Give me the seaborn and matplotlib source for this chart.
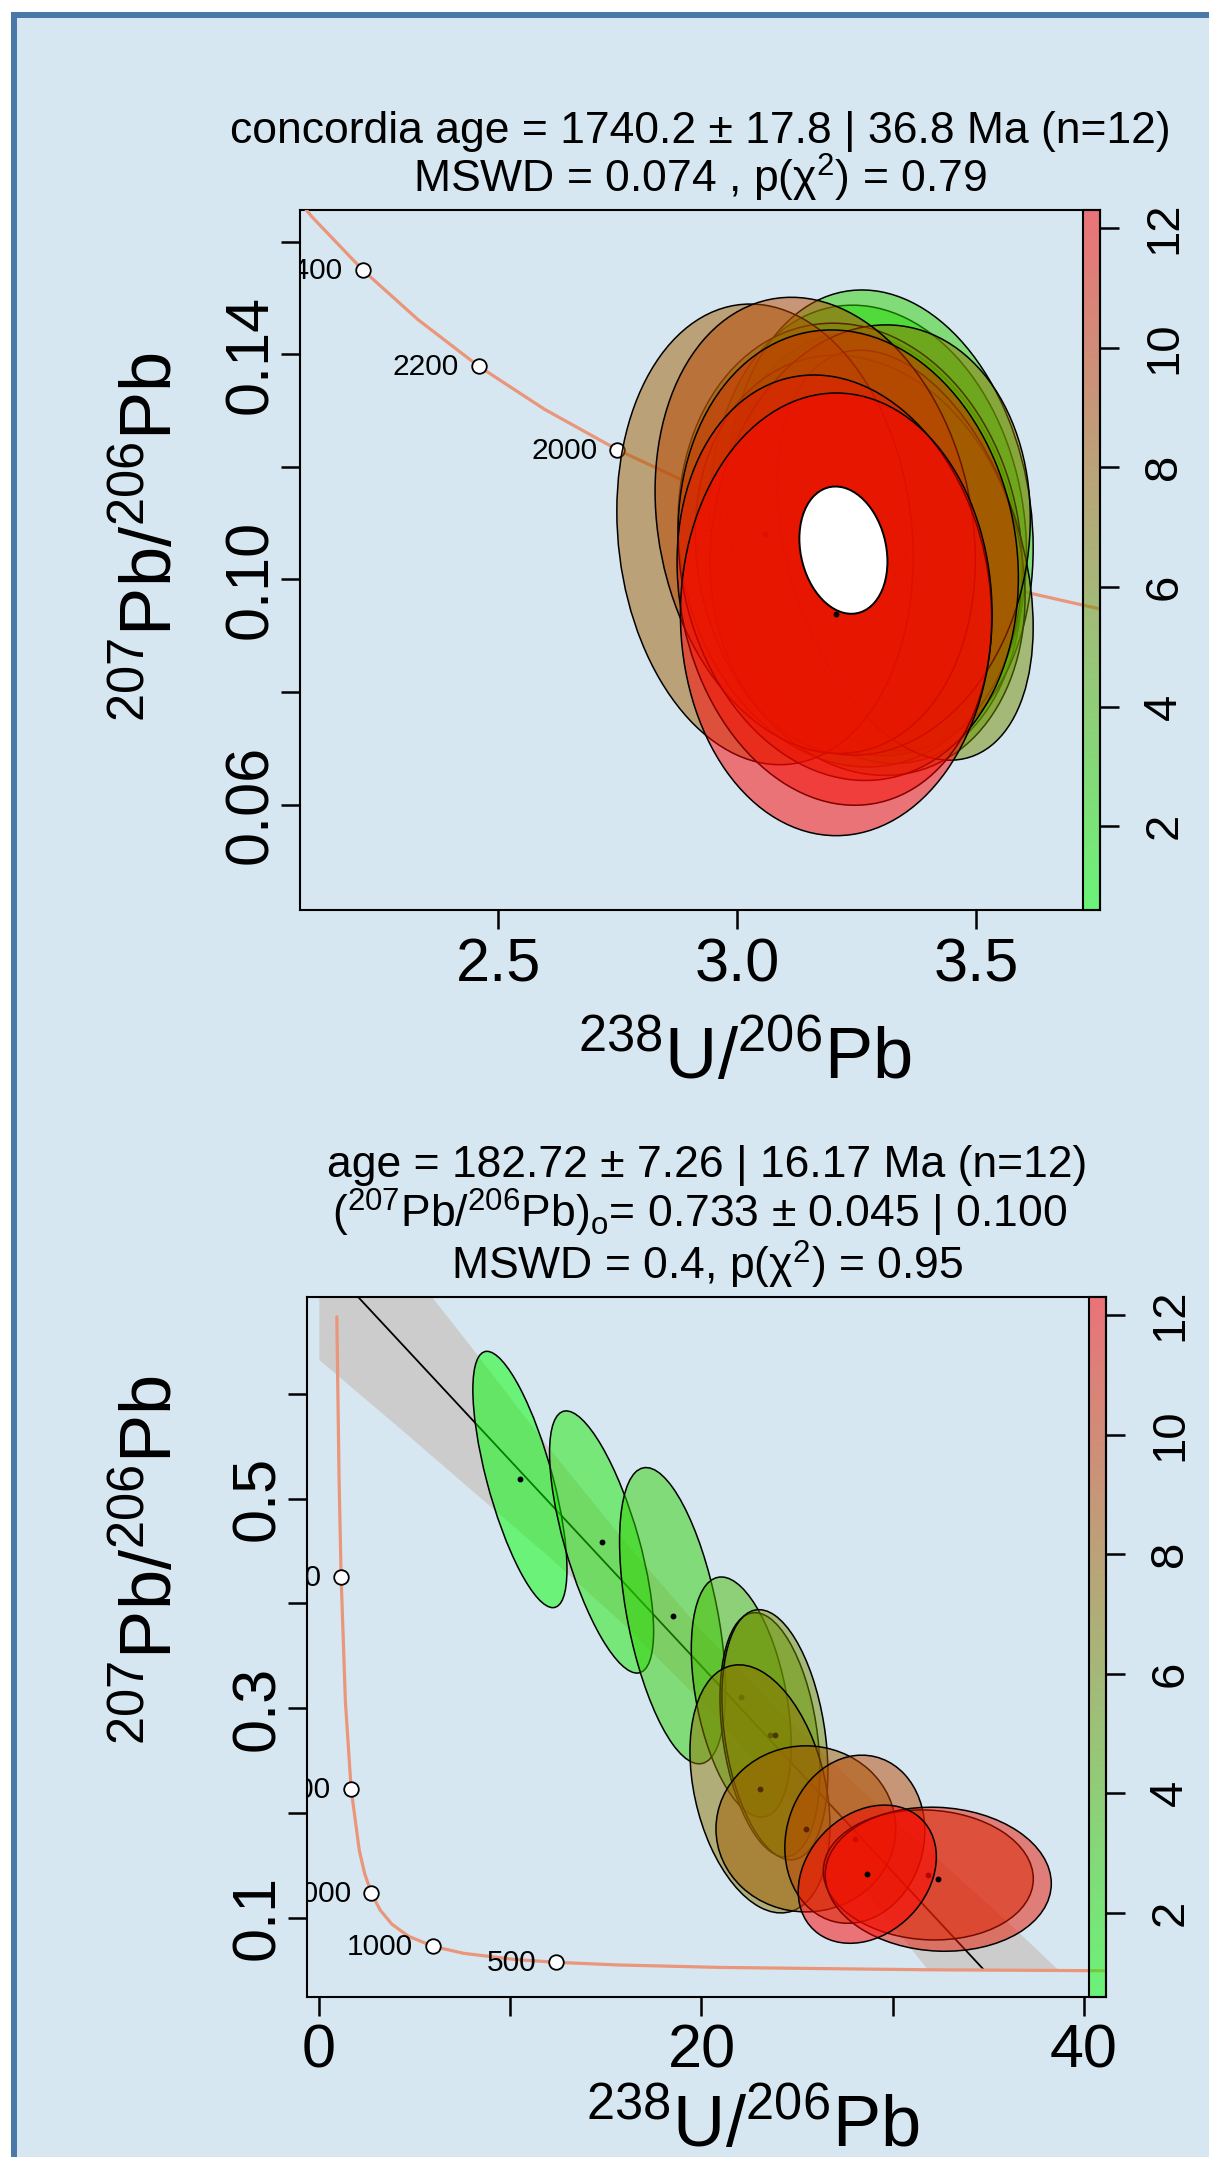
"""
Concordia diagram (top) and Tera-Wasserburg isochron (bottom), redrawn
from an IsoplotR screenshot. Writes out.png at 1209x2157 px.
"""

import matplotlib

matplotlib.use("Agg")

import matplotlib.pyplot as plt
import matplotlib.transforms as mtransforms
import numpy as np
import seaborn as sns
from matplotlib import cm
from matplotlib.colors import LinearSegmentedColormap, Normalize
from matplotlib.patches import Ellipse, Rectangle

W, H = 1209, 2157
BG = "#d6e7f1"
FRAME = "#4a79a9"
SALMON = "#e9967a"
BAND = "#cccccc"

CBAR_TICKS = [2, 4, 6, 8, 10, 12]
GRAIN = [1, 2, 3, 4, 5, 6, 7, 8, 9, 10, 11, 12]

# ---- top panel: concordia ---------------------------------------------------
top_conc_x = [4.1227, 3.8170, 3.5497, 3.3140, 3.1046, 2.9174, 2.7490,
              2.5968, 2.4586, 2.3325, 2.2170, 2.1108, 2.0129]
top_conc_y = [0.08885, 0.09364, 0.09876, 0.10423, 0.11009, 0.11634, 0.12304,
              0.13021, 0.13788, 0.14610, 0.15490, 0.16433, 0.17445]
top_tick_age = [1600, 1800, 2000, 2200, 2400]
top_tick_x = [3.5497, 3.1046, 2.7490, 2.4586, 2.2170]
top_tick_y = [0.09876, 0.11009, 0.12304, 0.13788, 0.15490]

top_x = [3.282, 3.274, 3.299, 3.236, 3.257, 3.351, 3.278, 3.058, 3.163, 3.232, 3.203, 3.207]
top_y = [0.1055, 0.1087, 0.1105, 0.1061, 0.1025, 0.1043, 0.1070, 0.1080, 0.1096, 0.1043, 0.0981, 0.0938]
top_sx = [0.314, 0.331, 0.320, 0.360, 0.345, 0.268, 0.335, 0.310, 0.335, 0.356, 0.329, 0.326]
top_sy = [0.0382, 0.0400, 0.0409, 0.0394, 0.0373, 0.0364, 0.0382, 0.0409, 0.0405, 0.0400, 0.0382, 0.0393]
top_rho = [-0.15, -0.10, -0.12, -0.10, -0.15, -0.35, 0.10, -0.10, -0.15, -0.10, -0.13, 0.0]

# concordia age ellipse (white)
fit_x, fit_y, fit_sx, fit_sy, fit_rho = 3.222, 0.1052, 0.0921, 0.0113, -0.18

# ---- bottom panel: Tera-Wasserburg isochron ---------------------------------
bot_conc_x = [42.477, 31.735, 20.992, 15.621, 12.399, 10.252, 7.568, 5.960, 4.673,
              3.817, 3.206, 2.749, 2.394, 2.111, 1.687, 1.387, 1.163, 1.054, 0.939]
bot_conc_y = [0.04906, 0.05013, 0.05236, 0.05472, 0.05724, 0.05993, 0.06583, 0.07254,
              0.08222, 0.09364, 0.10711, 0.12304, 0.14192, 0.16433, 0.22275, 0.30601,
              0.42520, 0.52062, 0.67371]
bot_tick_age = [500, 1000, 2000, 3000, 4000]
bot_tick_x = [12.399, 5.960, 2.749, 1.687, 1.163]
bot_tick_y = [0.05724, 0.07254, 0.12304, 0.22275, 0.42520]

iso_x = [0.0, 34.78]
iso_y = [0.733, 0.0498]
band_x = [0, 4, 8, 12, 16, 20, 24, 28, 31.8, 34, 36, 38.6]
band_hi = [0.833, 0.737, 0.644, 0.549, 0.459, 0.374, 0.298, 0.228, 0.165, 0.129, 0.096, 0.051]
band_lo = [0.633, 0.571, 0.508, 0.445, 0.379, 0.306, 0.226, 0.138, 0.051, 0.051, 0.051, 0.051]

bot_x = [10.51, 14.78, 18.49, 22.08, 23.58, 23.84, 23.06, 25.46, 28.02, 31.86, 32.38, 28.67]
bot_y = [0.5184, 0.4587, 0.3883, 0.3106, 0.2746, 0.2746, 0.2229, 0.1847, 0.1748, 0.1407, 0.1366, 0.1414]
bot_sx = [2.46, 2.72, 2.77, 2.61, 2.61, 2.77, 3.66, 4.70, 3.66, 5.49, 5.91, 3.61]
bot_sy = [0.1224, 0.1252, 0.1415, 0.1147, 0.1166, 0.1195, 0.1185, 0.0793, 0.0803, 0.0621, 0.0688, 0.0660]
bot_rho = [-0.70, -0.68, -0.50, -0.40, -0.30, -0.30, -0.30, 0.0, 0.10, -0.06, -0.06, 0.25]


def add_axes_px(fig, left, top, right, bottom):
    return fig.add_axes([left / W, 1 - bottom / H, (right - left) / W, (bottom - top) / H])


def text_px(fig, x, y, s, **kw):
    fig.text(x / W, 1 - y / H, s, **kw)


def draw_ellipse(ax, cx, cy, sx, sy, rho, **kw):
    cov = np.array([[sx * sx, rho * sx * sy], [rho * sx * sy, sy * sy]])
    vals, vecs = np.linalg.eigh(cov)
    angle = np.degrees(np.arctan2(vecs[1, 1], vecs[0, 1]))
    ax.add_patch(Ellipse((cx, cy), 2 * np.sqrt(vals[1]), 2 * np.sqrt(vals[0]), angle=angle, **kw))


def draw_grains(ax, cmap, xs, ys, sxs, sys_, rhos):
    norm = Normalize(1, 12)
    for k, (g, x, y, sx, sy, r) in enumerate(zip(GRAIN, xs, ys, sxs, sys_, rhos)):
        draw_ellipse(ax, x, y, sx, sy, r, facecolor=cmap(norm(g)), edgecolor="black",
                     linewidth=1.1, zorder=10 + 2 * k)
        ax.plot(x, y, "o", ms=3.2, color="black", zorder=11 + 2 * k)


def age_marks(fig, ax, ages, xs, ys):
    sns.scatterplot(x=xs, y=ys, s=110, color="white", edgecolor="black", linewidth=1.3,
                    ax=ax, zorder=4)
    off = mtransforms.offset_copy(ax.transData, fig=fig, x=-20, y=-1, units="dots")
    for a, x, y in zip(ages, xs, ys):
        ax.text(x, y, str(a), transform=off, ha="right", va="center", fontsize=21.5,
                clip_on=True, zorder=4)


def style_axes(ax, xlim, ylim, xticks, xlabels, yticks, ylabels):
    ax.set_facecolor("none")
    ax.set_xlim(*xlim)
    ax.set_ylim(*ylim)
    ax.set_xticks(xticks)
    ax.set_xticklabels(xlabels)
    ax.set_yticks(yticks)
    ax.set_yticklabels(ylabels, rotation=90, va="center")
    ax.tick_params(direction="out", length=13.5, width=1.8, labelsize=44, color="black")
    ax.tick_params(axis="x", pad=6)
    ax.tick_params(axis="y", pad=1)
    for sp in ax.spines.values():
        sp.set_visible(True)
        sp.set_linewidth(1.5)
        sp.set_color("black")


def add_colorbar(fig, cmap, box):
    cax = add_axes_px(fig, *box)
    cax.set_facecolor("none")
    sm = cm.ScalarMappable(norm=Normalize(0.6, 12.3), cmap=cmap)
    cb = fig.colorbar(sm, cax=cax)
    cb.set_ticks(CBAR_TICKS)
    cb.set_ticklabels([str(t) for t in CBAR_TICKS])
    cb.outline.set_linewidth(1.5)
    cb.outline.set_edgecolor("black")
    cax.tick_params(direction="out", length=13.5, width=1.8, labelsize=34, pad=17,
                    color="black")
    for lab in cax.get_yticklabels():
        lab.set_rotation(90)
        lab.set_va("center")
    return cb


def draw_top(fig, cmap):
    ax = add_axes_px(fig, 300.4, 210, 1100, 910)
    sns.lineplot(x=top_conc_x, y=top_conc_y, sort=False, estimator=None, color=SALMON,
                 linewidth=2.3, ax=ax, zorder=3)
    age_marks(fig, ax, top_tick_age, top_tick_x, top_tick_y)
    draw_grains(ax, cmap, top_x, top_y, top_sx, top_sy, top_rho)
    draw_ellipse(ax, fit_x, fit_y, fit_sx, fit_sy, fit_rho, facecolor="white",
                 edgecolor="black", linewidth=1.4, zorder=60)
    style_axes(ax, (2.086, 3.7588), (0.0413, 0.1656),
               [2.5, 3.0, 3.5], ["2.5", "3.0", "3.5"],
               [0.06, 0.08, 0.10, 0.12, 0.14, 0.16], ["0.06", "", "0.10", "", "0.14", ""])
    add_colorbar(fig, cmap, (1083, 210, 1100, 910))

    text_px(fig, 700, 143, "concordia age = 1740.2 ± 17.8 | 36.8 Ma (n=12)",
            ha="center", va="baseline", fontsize=32)
    text_px(fig, 700, 193, "MSWD = 0.074 , p(χ$^2$) = 0.79",
            ha="center", va="baseline", fontsize=32)
    text_px(fig, 745, 1078, r"$^{238}$U/$^{206}$Pb", ha="center", va="baseline", fontsize=52)
    text_px(fig, 152, 537, r"$^{207}$Pb/$^{206}$Pb", rotation=90, ha="center", va="center",
            fontsize=52)


def draw_bottom(fig, cmap):
    ax = add_axes_px(fig, 307.4, 1297, 1106, 1996.7)
    ax.fill_between(band_x, band_lo, band_hi, color=BAND, linewidth=0, zorder=1)
    sns.lineplot(x=iso_x, y=iso_y, color="black", linewidth=1.3, ax=ax, zorder=2)
    sns.lineplot(x=bot_conc_x, y=bot_conc_y, sort=False, estimator=None, color=SALMON,
                 linewidth=2.3, ax=ax, zorder=3)
    age_marks(fig, ax, bot_tick_age, bot_tick_x, bot_tick_y)
    draw_grains(ax, cmap, bot_x, bot_y, bot_sx, bot_sy, bot_rho)
    style_axes(ax, (-0.6, 41.15), (0.0244, 0.6927),
               [0, 10, 20, 30, 40], ["0", "", "20", "", "40"],
               [0.1, 0.2, 0.3, 0.4, 0.5, 0.6], ["0.1", "", "0.3", "", "0.5", ""])
    add_colorbar(fig, cmap, (1089, 1297, 1106, 1996.7))

    text_px(fig, 707, 1177, "age = 182.72 ± 7.26 | 16.17 Ma (n=12)",
            ha="center", va="baseline", fontsize=32)
    text_px(fig, 700, 1228, r"($^{207}$Pb/$^{206}$Pb)$_{\mathrm{o}}$= 0.733 ± 0.045 | 0.100",
            ha="center", va="baseline", fontsize=32)
    text_px(fig, 707, 1280, "MSWD = 0.4, p(χ$^2$) = 0.95",
            ha="center", va="baseline", fontsize=32)
    text_px(fig, 753, 2146, r"$^{238}$U/$^{206}$Pb", ha="center", va="baseline", fontsize=52)
    text_px(fig, 152, 1560, r"$^{207}$Pb/$^{206}$Pb", rotation=90, ha="center", va="center",
            fontsize=52)


def main() -> None:
    sns.set_theme(style="ticks")
    plt.rcParams.update({
        "font.family": ["Liberation Sans", "DejaVu Sans"],
        "mathtext.fontset": "custom",
        "mathtext.rm": "Liberation Sans",
        "mathtext.it": "Liberation Sans:italic",
        "mathtext.bf": "Liberation Sans:bold",
        "text.color": "black",
        "xtick.color": "black",
        "ytick.color": "black",
        "axes.edgecolor": "black",
    })

    fig = plt.figure(figsize=(W / 100, H / 100), dpi=100, facecolor="white")
    fig.add_artist(Rectangle((11 / W, 0), 1 - 11 / W, 1 - 12 / H, transform=fig.transFigure,
                             facecolor=FRAME, edgecolor="none", zorder=-10))
    fig.add_artist(Rectangle((17 / W, 0), 1 - 17 / W, 1 - 18 / H, transform=fig.transFigure,
                             facecolor=BG, edgecolor="none", zorder=-9))

    cmap = LinearSegmentedColormap.from_list("grain", [(0, 1, 0, 0.5), (1, 0, 0, 0.5)])
    draw_top(fig, cmap)
    draw_bottom(fig, cmap)

    fig.savefig("out.png", dpi=100, facecolor=fig.get_facecolor())
    plt.close(fig)


if __name__ == "__main__":
    main()
